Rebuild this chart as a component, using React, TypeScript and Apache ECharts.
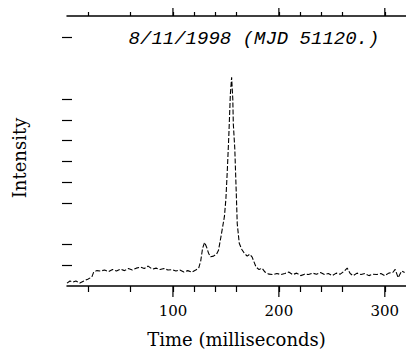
import React, { useEffect, useRef } from "react";
import * as echarts from "echarts";

const timeMs = [
  0, 2.8, 5.6, 8.4, 12.1, 15.9, 19.6, 23.4, 25.2, 28, 31.8, 35.5, 39.3, 43, 46.7, 50.5, 54.2, 57.9,
  61.7, 65.4, 69.2, 72.9, 76.6, 80.4, 84.1, 87.9, 91.6, 95.3, 99.1, 102.8, 106.5, 110.3, 114,
  117.8, 121.5, 124.3, 126.2, 128, 129.9, 131.8, 133.6, 135.5, 138.3, 141.1, 143, 144.9, 146.7,
  148.6, 150, 151.4, 152.8, 154.2, 155.4, 156.5, 157, 158.4, 159.8, 160.7, 162.6, 164.9, 167.3,
  170.1, 172.4, 174.8, 176.6, 178.5, 181.3, 184.1, 186.9, 190.7, 194.4, 198.1, 201.9, 205.6,
  209.3, 213.1, 216.8, 220.6, 224.3, 228, 231.8, 235.5, 239.3, 243, 246.7, 250.5, 254.2, 258,
  261.7, 264.5, 267.3, 270.1, 273.8, 277.6, 281.3, 285, 288.8, 292.5, 296.3, 300, 303.7, 307.5,
  309.8, 312.6, 315.9, 318.7,
];
const intensity = [
  0.14, 0.24, 0.19, 0.24, 0.14, 0.24, 0.33, 0.43, 0.67, 0.74, 0.72, 0.77, 0.69, 0.79, 0.72, 0.81,
  0.74, 0.84, 0.77, 0.86, 0.91, 0.84, 0.96, 0.81, 0.86, 0.79, 0.84, 0.77, 0.79, 0.72, 0.77, 0.67,
  0.74, 0.67, 0.77, 0.86, 1.2, 1.82, 2.1, 1.87, 1.58, 1.41, 1.44, 1.53, 1.72, 2.25, 2.78, 3.35,
  4.2, 5.65, 7.3, 9.23, 10.05, 9.0, 7.8, 6.6, 4.45, 3.0, 2.06, 1.77, 1.58, 1.44, 1.53, 1.39, 1.15,
  0.91, 0.79, 0.86, 0.67, 0.57, 0.55, 0.6, 0.55, 0.6, 0.67, 0.55, 0.62, 0.5, 0.57, 0.55, 0.62,
  0.57, 0.65, 0.55, 0.6, 0.5, 0.62, 0.57, 0.72, 0.86, 0.6, 0.5, 0.62, 0.55, 0.6, 0.5, 0.57, 0.55,
  0.6, 0.5, 0.62, 0.65, 0.8, 0.4, 0.72, 0.65,
];

const majorTicks = [100, 200, 300];
const minorTicks = [20, 60, 120, 140, 160, 220, 240, 260];
const yTicks = [1, 2, 4, 5, 6, 7, 8, 9, 12];

const titleText = "8/11/1998 (MJD 51120.)";
const xName = "Time (milliseconds)";
const yName = "Intensity";

const MONO = "'Liberation Mono', 'DejaVu Sans Mono', monospace";
const SERIF = "'DejaVu Serif', 'Liberation Serif', serif";

const X_MIN = 0;
const X_MAX = 320;
const Y_MIN = 0;
const Y_MAX = 13;

export default function App() {
  const ref = useRef<HTMLDivElement>(null);
  useEffect(() => {
    if (!ref.current) return;
    const chart = echarts.init(ref.current, null, { renderer: "svg" });
    const allXTicks = [...minorTicks, ...majorTicks].sort((a, b) => a - b);
    const tickStyle = { color: "#000", width: 1.2 };
    const xBase = { type: "value", min: X_MIN, max: X_MAX, splitLine: { show: false } } as any;
    const yBase = {
      type: "value",
      min: Y_MIN,
      max: Y_MAX,
      splitLine: { show: false },
      axisLine: { show: false },
      axisLabel: { show: false },
      axisTick: { show: true, inside: true, length: 5, customValues: yTicks, lineStyle: tickStyle },
    } as any;
    chart.setOption({
      animation: false,
      backgroundColor: "#fff",
      grid: { left: 67, right: -3.4, top: 16, bottom: 65 },
      xAxis: [
        {
          ...xBase,
          position: "bottom",
          axisLine: { show: true, onZero: false, lineStyle: { color: "#000", width: 1.5 } },
          axisTick: { show: true, length: 6, customValues: allXTicks, lineStyle: tickStyle },
          axisLabel: {
            show: true,
            customValues: majorTicks,
            margin: 17,
            color: "#000",
            fontFamily: SERIF,
            fontSize: 15,
          },
          name: xName,
          nameLocation: "middle",
          nameGap: 44,
          nameTextStyle: { color: "#000", fontFamily: SERIF, fontSize: 18 },
        },
        {
          ...xBase,
          position: "top",
          axisLine: { show: true, onZero: false, lineStyle: { color: "#000", width: 1.5 } },
          axisTick: { show: true, length: 4, customValues: allXTicks, lineStyle: tickStyle },
          axisLabel: { show: false },
        },
      ],
      yAxis: [
        { ...yBase, position: "left" },
        { ...yBase, position: "right" },
      ],
      graphic: [
        {
          type: "text",
          x: 254,
          y: 39,
          style: {
            text: titleText,
            fontFamily: MONO,
            fontStyle: "italic",
            fontSize: 19,
            fill: "#000",
            align: "center",
            verticalAlign: "middle",
          },
        },
        {
          type: "text",
          x: 19,
          y: 158,
          rotation: Math.PI / 2,
          style: {
            text: yName,
            fontFamily: SERIF,
            fontSize: 18,
            fill: "#000",
            align: "center",
            verticalAlign: "middle",
          },
        },
      ],
      series: [
        {
          type: "line",
          xAxisIndex: 0,
          yAxisIndex: 0,
          data: timeMs.map((t, i) => [t, intensity[i]]),
          showSymbol: false,
          symbol: "none",
          clip: true,
          lineStyle: { color: "#000", width: 1.1, type: [5, 2] },
        },
        {
          type: "custom",
          xAxisIndex: 0,
          yAxisIndex: 0,
          clip: false,
          silent: true,
          data: majorTicks.map((v) => [v]),
          renderItem: (params: any, api: any) => {
            const v = api.value(0);
            const bottom = api.coord([v, Y_MIN]);
            const top = api.coord([v, Y_MAX]);
            return {
              type: "group",
              children: [
                {
                  type: "line",
                  shape: { x1: bottom[0], y1: bottom[1], x2: bottom[0], y2: bottom[1] + 11 },
                  style: { stroke: "#000", lineWidth: 1.2 },
                },
                {
                  type: "line",
                  shape: { x1: top[0], y1: top[1], x2: top[0], y2: top[1] - 8 },
                  style: { stroke: "#000", lineWidth: 1.2 },
                },
              ],
            };
          },
        },
      ],
    });
    return () => chart.dispose();
  }, []);
  return <div ref={ref} style={{ position: "absolute", left: 0, top: 0, width: 406, height: 353 }} />;
}
